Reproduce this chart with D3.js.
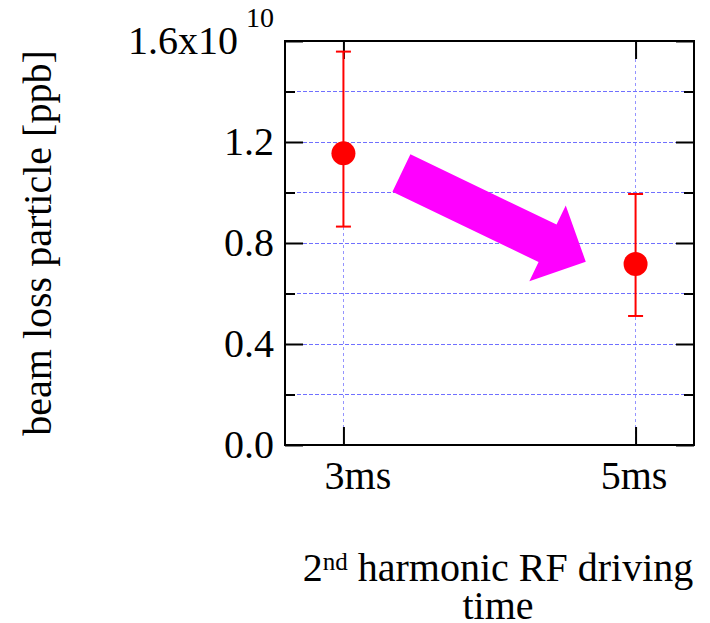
<!DOCTYPE html>
<html>
<head>
<meta charset="utf-8">
<script src="https://cdn.jsdelivr.net/npm/d3@7/dist/d3.min.js"></script>
<style>
  html, body { margin: 0; padding: 0; background: #fff; }
  svg { display: block; }
  text { font-family: "Liberation Serif", "Times New Roman", serif; fill: #000; }
</style>
</head>
<body>
<svg id="chart" width="710" height="623"></svg>
<script>
// Driving time (ms) and measured beam loss, in units of 1e10 particles
const times = [3, 5];
const timeLabels = ["3ms", "5ms"];
const lossMean = [1.155, 0.717];
const lossHigh = [1.558, 0.994];
const lossLow = [0.865, 0.511];

// Axis ticks
const yMajorTicks = [0, 0.4, 0.8, 1.2, 1.6];
const yMinorTicks = [0.2, 0.6, 1.0, 1.4];
const yGrid = [0.2, 0.4, 0.6, 0.8, 1.0, 1.2, 1.4];

// Trend arrow annotation, given in data coordinates
const arrowTail = [3.397, 1.077];
const arrowTip = [4.659, 0.726];

const svg = d3.select("#chart");
const plotLeft = 285, plotRight = 694, plotTop = 41, plotBottom = 445;

const x = d3.scaleLinear().domain([2.6, 5.4]).range([plotLeft, plotRight]);
const y = d3.scaleLinear().domain([0, 1.6]).range([plotBottom, plotTop]);

const gridColor = "#7070ff";

// Grid lines
svg.append("g").attr("shape-rendering", "crispEdges")
  .selectAll("line").data(yGrid).join("line")
  .attr("x1", plotLeft).attr("x2", plotRight)
  .attr("y1", d => y(d)).attr("y2", d => y(d))
  .attr("stroke", gridColor).attr("stroke-width", 1)
  .attr("stroke-dasharray", "4,2");
svg.append("g").attr("shape-rendering", "crispEdges")
  .selectAll("line").data(times).join("line")
  .attr("x1", d => x(d)).attr("x2", d => x(d))
  .attr("y1", plotTop).attr("y2", plotBottom)
  .attr("stroke", gridColor).attr("stroke-opacity", 0.75).attr("stroke-width", 1)
  .attr("stroke-dasharray", "3,3");

// Axes with inward ticks
function styleAxis(g) {
  g.select(".domain").remove();
  g.selectAll(".tick line").attr("stroke", "#000").attr("stroke-width", 2);
  g.selectAll(".tick text").attr("font-size", 40).attr("font-family", "Liberation Serif, serif");
}

const yAxisLeft = svg.append("g").attr("transform", `translate(${plotLeft},0)`)
  .call(d3.axisLeft(y).tickValues(yMajorTicks).tickSizeInner(-18).tickSizeOuter(0)
    .tickPadding(11).tickFormat(d3.format(".1f")))
  .call(styleAxis);

// Top label carries the 1e10 multiplier
yAxisLeft.selectAll(".tick text").filter(d => d === 1.6)
  .text(null)
  .call(t => {
    t.append("tspan").text("1.6x10");
    t.append("tspan").attr("font-size", 28).attr("dx", 8).attr("dy", -27).text("10");
  });

svg.append("g").attr("transform", `translate(${plotLeft},0)`)
  .call(d3.axisLeft(y).tickValues(yMinorTicks).tickSizeInner(-10).tickSizeOuter(0).tickFormat(""))
  .call(styleAxis);
svg.append("g").attr("transform", `translate(${plotRight},0)`)
  .call(d3.axisRight(y).tickValues(yMajorTicks).tickSizeInner(-18).tickSizeOuter(0).tickFormat(""))
  .call(styleAxis);
svg.append("g").attr("transform", `translate(${plotRight},0)`)
  .call(d3.axisRight(y).tickValues(yMinorTicks).tickSizeInner(-10).tickSizeOuter(0).tickFormat(""))
  .call(styleAxis);

const xAxisBottom = svg.append("g").attr("transform", `translate(0,${plotBottom})`)
  .call(d3.axisBottom(x).tickValues(times).tickSizeInner(-18).tickSizeOuter(0)
    .tickPadding(16).tickFormat((d, i) => timeLabels[i]))
  .call(styleAxis);
xAxisBottom.selectAll(".tick text").attr("dx", (d, i) => i === 0 ? 14 : -2);

svg.append("g").attr("transform", `translate(0,${plotTop})`)
  .call(d3.axisTop(x).tickValues(times).tickSizeInner(-18).tickSizeOuter(0).tickFormat(""))
  .call(styleAxis);

// Plot frame
svg.append("rect")
  .attr("x", plotLeft).attr("y", plotTop)
  .attr("width", plotRight - plotLeft).attr("height", plotBottom - plotTop)
  .attr("fill", "none").attr("stroke", "#000").attr("stroke-width", 2);

// Trend arrow
(function drawArrow() {
  const [tx, ty] = [x(arrowTail[0]), y(arrowTail[1])];
  const [hx, hy] = [x(arrowTip[0]), y(arrowTip[1])];
  const len = Math.hypot(hx - tx, hy - ty);
  const ux = (hx - tx) / len, uy = (hy - ty) / len;
  const nx = -uy, ny = ux;
  const shaft = 20.75, head = 42, headLen = 42.4;
  const bx = hx - ux * headLen, by = hy - uy * headLen;
  const pts = [
    [tx - nx * shaft, ty - ny * shaft],
    [bx - nx * shaft, by - ny * shaft],
    [bx - nx * head, by - ny * head],
    [hx, hy],
    [bx + nx * head, by + ny * head],
    [bx + nx * shaft, by + ny * shaft],
    [tx + nx * shaft, ty + ny * shaft]
  ];
  svg.append("polygon")
    .attr("points", pts.map(p => p.join(",")).join(" "))
    .attr("fill", "#ff00ff");
})();

// Error bars and markers
const points = times.map((t, i) => ({ t, m: lossMean[i], hi: lossHigh[i], lo: lossLow[i] }));
const red = "#ff0000";
const eb = svg.append("g");
eb.selectAll("line.v").data(points).join("line").attr("class", "v")
  .attr("x1", d => x(d.t)).attr("x2", d => x(d.t))
  .attr("y1", d => y(d.hi)).attr("y2", d => y(d.lo))
  .attr("stroke", red).attr("stroke-width", 2);
eb.selectAll("line.ch").data(points).join("line").attr("class", "ch")
  .attr("x1", d => x(d.t) - 7.5).attr("x2", d => x(d.t) + 7.5)
  .attr("y1", d => y(d.hi)).attr("y2", d => y(d.hi))
  .attr("stroke", red).attr("stroke-width", 2);
eb.selectAll("line.cl").data(points).join("line").attr("class", "cl")
  .attr("x1", d => x(d.t) - 7.5).attr("x2", d => x(d.t) + 7.5)
  .attr("y1", d => y(d.lo)).attr("y2", d => y(d.lo))
  .attr("stroke", red).attr("stroke-width", 2);
eb.selectAll("circle").data(points).join("circle")
  .attr("cx", d => x(d.t)).attr("cy", d => y(d.m)).attr("r", 12)
  .attr("fill", red);

// Axis titles
svg.append("text")
  .attr("transform", "translate(51,243) rotate(-90)")
  .attr("text-anchor", "middle").attr("font-size", 40)
  .text("beam loss particle [ppb]");

const xt = svg.append("text")
  .attr("x", 498).attr("y", 581)
  .attr("text-anchor", "middle").attr("font-size", 40);
xt.append("tspan").text("2");
xt.append("tspan").attr("font-size", 25).attr("dy", -11).text("nd");
xt.append("tspan").attr("dy", 11).text(" harmonic RF driving");
svg.append("text")
  .attr("x", 498).attr("y", 619)
  .attr("text-anchor", "middle").attr("font-size", 40)
  .text("time");
</script>
</body>
</html>
